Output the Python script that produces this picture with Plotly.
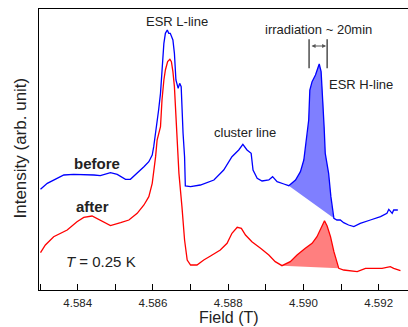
import plotly.graph_objects as go

# ---- data ----
before_field = [4.58301, 4.58319, 4.58345, 4.58363, 4.58389, 4.58416, 4.58443, 4.58460, 4.58487, 4.58505,
                4.58527, 4.58540, 4.58558, 4.58576, 4.58589, 4.58598, 4.58602, 4.58607, 4.58615, 4.58620,
                4.58624, 4.58629, 4.58633, 4.58638, 4.58642, 4.58646, 4.58653, 4.58657, 4.58661, 4.58667,
                4.58671, 4.58675, 4.58680, 4.58684, 4.58686, 4.58700, 4.58726, 4.58762, 4.58788, 4.58810,
                4.58828, 4.58839, 4.58850, 4.58861, 4.58866, 4.58877, 4.58890, 4.58908, 4.58918, 4.58930,
                4.58948, 4.58961, 4.58979, 4.58992, 4.59001, 4.59008, 4.59014, 4.59017, 4.59023, 4.59032,
                4.59036, 4.59042, 4.59047, 4.59052, 4.59055, 4.59058, 4.59067, 4.59073, 4.59077, 4.59081,
                4.59089, 4.59098, 4.59107, 4.59120, 4.59134, 4.59151, 4.59178, 4.59205, 4.59222, 4.59227,
                4.59236, 4.59240, 4.59251]
before_int = [30.2, 32.0, 33.5, 34.5, 34.7, 34.7, 34.5, 34.3, 35.2, 34.7,
              33.2, 33.2, 35.0, 37.0, 38.5, 40.5, 43.0, 47.0, 54.0, 59.0,
              67.0, 74.0, 77.0, 78.0, 77.0, 77.0, 75.0, 71.0, 63.0, 60.5,
              62.0, 61.0, 47.0, 40.0, 31.2, 31.0, 31.5, 33.0, 36.0, 40.0,
              42.0, 43.7, 42.0, 41.0, 36.0, 33.5, 32.7, 33.0, 34.0, 32.5,
              31.8, 31.3, 33.0, 35.5, 39.0, 45.0, 51.0, 60.0, 62.5, 64.5,
              66.0, 67.8, 65.5, 57.0, 49.0, 41.0, 35.0, 28.0, 24.0, 21.5,
              21.0, 21.0, 20.2, 19.5, 19.0, 20.0, 21.0, 22.0, 23.0, 24.2,
              23.0, 24.0, 24.0]

after_field = [4.58301, 4.58314, 4.58336, 4.58372, 4.58398, 4.58416, 4.58438, 4.58460, 4.58487, 4.58514,
               4.58536, 4.58558, 4.58576, 4.58589, 4.58598, 4.58607, 4.58611, 4.58620, 4.58624, 4.58629,
               4.58633, 4.58639, 4.58645, 4.58649, 4.58653, 4.58657, 4.58661, 4.58664, 4.58669, 4.58677,
               4.58684, 4.58691, 4.58700, 4.58717, 4.58735, 4.58753, 4.58779, 4.58797, 4.58810, 4.58824,
               4.58835, 4.58846, 4.58863, 4.58886, 4.58908, 4.58925, 4.58943, 4.58965, 4.58983, 4.59005,
               4.59023, 4.59036, 4.59045, 4.59056, 4.59063, 4.59072, 4.59081, 4.59087, 4.59094, 4.59107,
               4.59125, 4.59143, 4.59165, 4.59187, 4.59209, 4.59231, 4.59240, 4.59258]
after_int = [11.2, 13.5, 16.0, 18.0, 20.5, 21.8, 22.2, 21.0, 19.3, 20.2,
             21.0, 23.0, 25.5, 28.0, 32.0, 40.0, 45.0, 49.0, 57.0, 63.0,
             66.0, 68.5, 69.2, 68.5, 65.5, 61.0, 52.0, 45.0, 35.0, 25.0,
             15.0, 9.0, 7.5, 7.5, 9.0, 10.2, 12.0, 14.0, 17.0, 18.8,
             18.5, 16.5, 14.5, 12.5, 10.5, 8.5, 7.3, 8.5, 10.5, 12.5,
             14.0, 16.0, 18.0, 20.8, 19.2, 16.0, 11.5, 9.0, 6.5, 6.0,
             5.8, 5.5, 6.5, 6.5, 6.5, 7.0, 6.5, 5.8]

before_fill_range = (4.58961, 4.59081)   # ESR H-line area (before)
after_fill_range = (4.58943, 4.59094)    # ESR H-line area (after)

tick_vals = [4.583, 4.584, 4.585, 4.586, 4.587, 4.588, 4.589, 4.590, 4.591, 4.592]
tick_labels = ["", "4.584", "", "4.586", "", "4.588", "", "4.590", "", "4.592"]

irradiation_marks = (4.59015, 4.59063)   # start / end of the irradiation bracket

FONT = "Liberation Sans, Arial, Helvetica, sans-serif"
TXT = "#222222"


def segment(xs, ys, rng):
    sx = [x for x in xs if rng[0] <= x <= rng[1]]
    sy = [y for x, y in zip(xs, ys) if rng[0] <= x <= rng[1]]
    return sx, sy


fig = go.Figure()

bx, by = segment(before_field, before_int, before_fill_range)
ax_, ay_ = segment(after_field, after_int, after_fill_range)
fig.add_trace(go.Scatter(x=bx, y=by, fill="toself", mode="none",
                         fillcolor="rgba(0,0,255,0.5)", hoverinfo="skip"))
fig.add_trace(go.Scatter(x=ax_, y=ay_, fill="toself", mode="none",
                         fillcolor="rgba(255,0,0,0.5)", hoverinfo="skip"))

fig.add_trace(go.Scatter(x=before_field, y=before_int, mode="lines",
                         line=dict(color="#0000ff", width=1.3), name="before"))
fig.add_trace(go.Scatter(x=after_field, y=after_int, mode="lines",
                         line=dict(color="#ff0000", width=1.3), name="after"))

annots = [
    dict(x=4.58664, y=80.5, text="ESR L-line", font=dict(size=13)),
    dict(x=4.59039, y=78.3, text="irradiation ~ 20min", font=dict(size=13)),
    dict(x=4.59154, y=61.7, text="ESR H-line", font=dict(size=13)),
    dict(x=4.58844, y=47.2, text="cluster line", font=dict(size=13)),
    dict(x=4.58452, y=38.0, text="<b>before</b>", font=dict(size=15)),
    dict(x=4.58440, y=25.2, text="<b>after</b>", font=dict(size=15)),
    dict(x=4.58462, y=8.5, text="<i>T</i> = 0.25 K", font=dict(size=15)),
]
for a in annots:
    a.update(xref="x", yref="y", showarrow=False, xanchor="center", yanchor="middle")
    a["font"].update(family=FONT, color=TXT)
    fig.add_annotation(**a)

# irradiation bracket
for xv in irradiation_marks:
    fig.add_shape(type="line", xref="x", yref="y", x0=xv, x1=xv, y0=66.5, y1=75.2,
                  line=dict(color="#333333", width=1.3))
fig.add_annotation(x=irradiation_marks[1], y=73.2, ax=irradiation_marks[0], ay=73.2,
                   xref="x", yref="y", axref="x", ayref="y", text="", showarrow=True,
                   arrowhead=2, arrowside="end+start", arrowsize=0.8, arrowwidth=1,
                   arrowcolor="#555555", standoff=1, startstandoff=1)

# axis titles
fig.add_annotation(x=0.514, y=-0.098, xref="paper", yref="paper", text="Field (T)",
                   showarrow=False, xanchor="center", yanchor="middle",
                   font=dict(family=FONT, size=16, color=TXT))
fig.add_annotation(x=-0.0488, y=0.507, xref="paper", yref="paper", text="Intensity (arb. unit)",
                   showarrow=False, xanchor="center", yanchor="middle", textangle=-90,
                   font=dict(family=FONT, size=17, color=TXT))

fig.update_layout(
    width=408, height=327,
    margin=dict(l=39, r=0, t=9, b=37),
    paper_bgcolor="white", plot_bgcolor="white",
    showlegend=False,
    xaxis=dict(range=[4.58297, 4.59278], tickvals=tick_vals, ticktext=tick_labels,
               ticks="inside", ticklen=6, tickwidth=1, tickcolor="black",
               ticklabelstandoff=2,
               showline=True, linecolor="black", linewidth=1, mirror=True,
               showgrid=False, zeroline=False,
               tickfont=dict(family=FONT, size=11.5, color=TXT)),
    yaxis=dict(range=[0, 84.3], showline=True, linecolor="black", linewidth=1,
               showticklabels=False, ticks="", showgrid=False, zeroline=False),
)

fig.write_html("out.html", config={"displayModeBar": False},
               post_script="document.body.style.margin='0';document.body.style.overflow='hidden';")
